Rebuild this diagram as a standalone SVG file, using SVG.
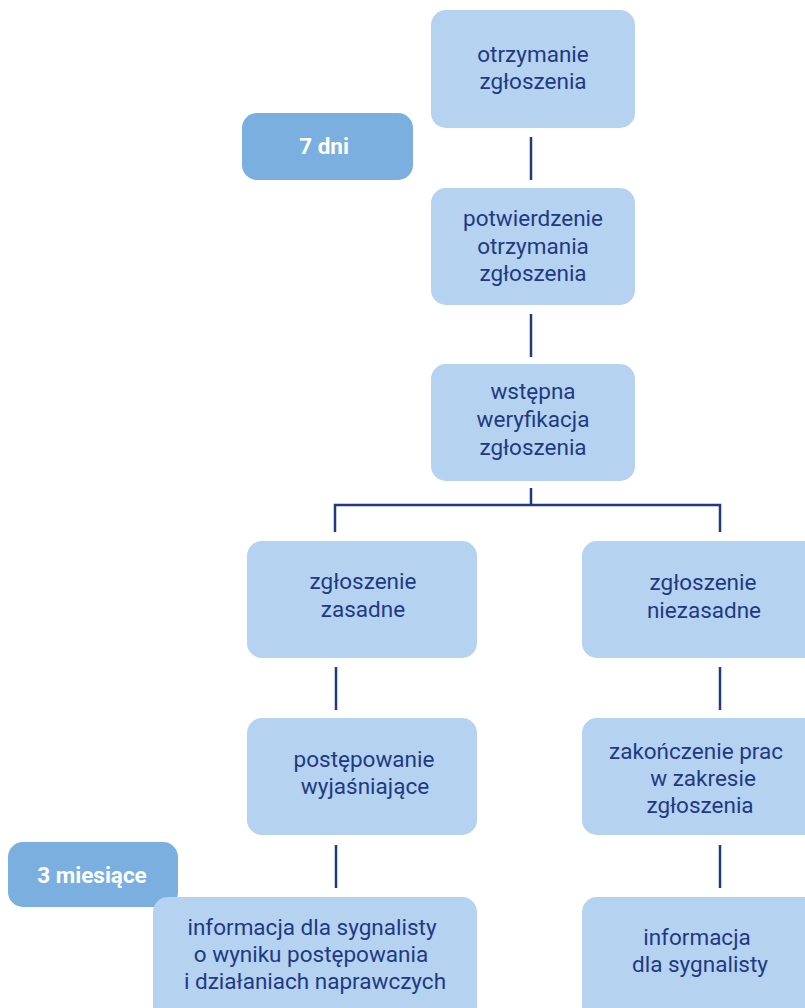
<svg xmlns="http://www.w3.org/2000/svg" width="805" height="1008" viewBox="0 0 805 1008">
<style>
.box{fill:#b5d2f0}
.tag{fill:#7aafdf}
.t{font-family:Roboto,"Liberation Sans",sans-serif;font-size:22.5px;fill:#1f3a82;text-anchor:middle}
.w{font-family:Roboto,"Liberation Sans",sans-serif;font-size:22.5px;font-weight:bold;fill:#ffffff;text-anchor:middle}
.c{stroke:#1f3a82;stroke-width:2.5;fill:none}
</style>
<rect width="805" height="1008" fill="#ffffff"/>
<g id="connectors">
<line class="c" x1="531" y1="137" x2="531" y2="180"/>
<line class="c" x1="531" y1="314" x2="531" y2="357"/>
<path class="c" d="M531 488 V505 M335 532 V505 H720 V532"/>
<line class="c" x1="336" y1="667" x2="336" y2="710"/>
<line class="c" x1="336" y1="845" x2="336" y2="888"/>
<line class="c" x1="720" y1="667" x2="720" y2="710"/>
<line class="c" x1="720" y1="845" x2="720" y2="888"/>
</g>
<g id="n1"><rect class="box" x="431" y="10" width="204" height="118" rx="15"/>
<text class="t" x="533" y="62">otrzymanie</text><text class="t" x="533" y="89">zgłoszenia</text></g>
<g id="tag7"><rect class="tag" x="242" y="113" width="171" height="67" rx="15"/>
<text class="w" x="324" y="154">7 dni</text></g>
<g id="n2"><rect class="box" x="431" y="188" width="204" height="117" rx="15"/>
<text class="t" x="533" y="226">potwierdzenie</text><text class="t" x="533" y="254">otrzymania</text><text class="t" x="533" y="281">zgłoszenia</text></g>
<g id="n3"><rect class="box" x="431" y="364" width="204" height="117" rx="15"/>
<text class="t" x="533" y="399">wstępna</text><text class="t" x="533" y="427">weryfikacja</text><text class="t" x="533" y="455">zgłoszenia</text></g>
<g id="n4"><rect class="box" x="247" y="541" width="230" height="117" rx="15"/>
<text class="t" x="363" y="589">zgłoszenie</text><text class="t" x="363" y="617">zasadne</text></g>
<g id="n5"><rect class="box" x="582" y="541" width="240" height="117" rx="15"/>
<text class="t" x="703" y="590">zgłoszenie</text><text class="t" x="704" y="618">niezasadne</text></g>
<g id="n6"><rect class="box" x="247" y="718" width="230" height="117" rx="15"/>
<text class="t" x="364" y="767">postępowanie</text><text class="t" x="365" y="794">wyjaśniające</text></g>
<g id="n7"><rect class="box" x="582" y="718" width="240" height="117" rx="15"/>
<text class="t" x="696" y="759">zakończenie prac</text><text class="t" x="703" y="786">w zakresie</text><text class="t" x="700" y="813">zgłoszenia</text></g>
<g id="tag3"><rect class="tag" x="8" y="842" width="170" height="65" rx="15"/>
<text class="w" x="92" y="883">3 miesiące</text></g>
<g id="n8"><rect class="box" x="153" y="897" width="324" height="130" rx="15"/>
<text class="t" x="312" y="935">informacja dla sygnalisty</text><text class="t" x="311" y="962">o wyniku postępowania</text><text class="t" x="315" y="989">i działaniach naprawczych</text></g>
<g id="n9"><rect class="box" x="582" y="897" width="240" height="130" rx="15"/>
<text class="t" x="697" y="945">informacja</text><text class="t" x="700" y="972">dla sygnalisty</text></g>
</svg>
